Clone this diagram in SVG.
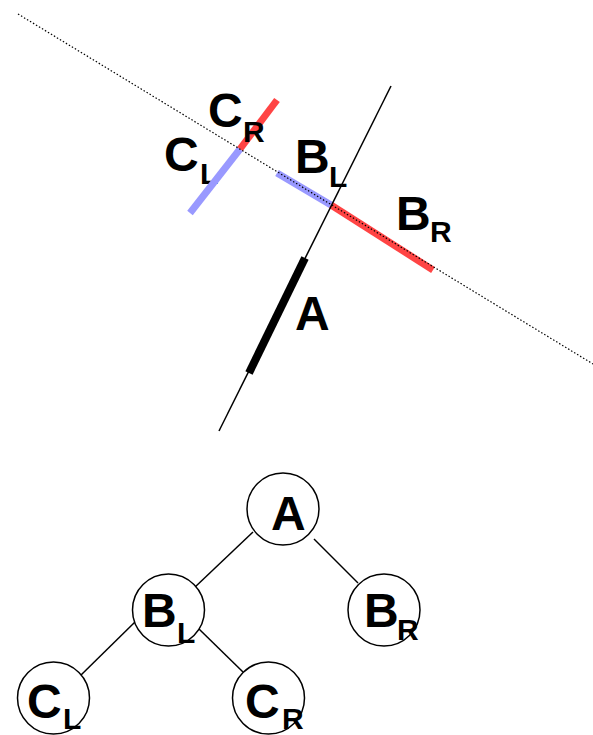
<svg xmlns="http://www.w3.org/2000/svg" width="593" height="735" viewBox="0 0 593 735">
<style>
.lbl{font-family:"Liberation Sans",Arial,sans-serif;font-weight:bold;font-size:48px;fill:#000}
.sub{font-family:"Liberation Sans",Arial,sans-serif;font-weight:bold;font-size:30px;fill:#000}
.red{stroke:#ff4444;stroke-width:7;fill:none}
.blue{stroke:#9999ff;stroke-width:7;fill:none}
.node{fill:#fff;stroke:#000;stroke-width:1.5}
.edge{stroke:#000;stroke-width:1.5;fill:none}
</style>
<rect width="593" height="735" fill="#fff"/>
<g id="geometry">
  <text class="lbl" x="164" y="171">C</text><text class="sub" x="200" y="184">L</text>
  <text class="lbl" x="295" y="173">B</text><text class="sub" x="329" y="187">L</text>
  <text class="lbl" x="396" y="230">B</text><text class="sub" x="430" y="242">R</text>
  <text class="lbl" x="295" y="330">A</text>
  <line class="blue" x1="190" y1="213" x2="240" y2="149"/>
  <line class="red" x1="240" y1="149" x2="277" y2="100"/>
  <line class="blue" x1="277" y1="173" x2="331" y2="205"/>
  <line class="red" x1="331" y1="205" x2="433" y2="270"/>
  <text class="lbl" x="208" y="127">C</text><text class="sub" x="243" y="142">R</text>
  <line x1="18" y1="14" x2="593" y2="364" stroke="#000" stroke-width="1.2" stroke-dasharray="1.5 2"/>
  <line x1="391" y1="86" x2="219" y2="431" stroke="#000" stroke-width="1.5"/>
  <line x1="305" y1="258" x2="249" y2="373" stroke="#000" stroke-width="8"/>
</g>
<g id="connectors">
  <line class="edge" x1="253" y1="532" x2="194" y2="588"/>
  <line class="edge" x1="314" y1="539" x2="358" y2="583"/>
  <line class="edge" x1="136" y1="621" x2="80" y2="676"/>
  <line class="edge" x1="199" y1="629" x2="243" y2="672"/>
</g>
<g id="node-A">
  <circle class="node" cx="283" cy="509" r="36"/>
  <text class="lbl" x="271" y="530">A</text>
</g>
<g id="node-BL">
  <circle class="node" cx="168.5" cy="610" r="36"/>
  <text class="lbl" x="142" y="627">B</text><text class="sub" x="177" y="643">L</text>
</g>
<g id="node-BR">
  <circle class="node" cx="384" cy="610" r="36"/>
  <text class="lbl" x="364" y="627">B</text><text class="sub" x="397" y="640">R</text>
</g>
<g id="node-CL">
  <circle class="node" cx="53.5" cy="698" r="36"/>
  <text class="lbl" x="27" y="718">C</text><text class="sub" x="63" y="729">L</text>
</g>
<g id="node-CR">
  <circle class="node" cx="268.5" cy="698" r="36"/>
  <text class="lbl" x="245" y="718">C</text><text class="sub" x="282" y="729">R</text>
</g>
</svg>
